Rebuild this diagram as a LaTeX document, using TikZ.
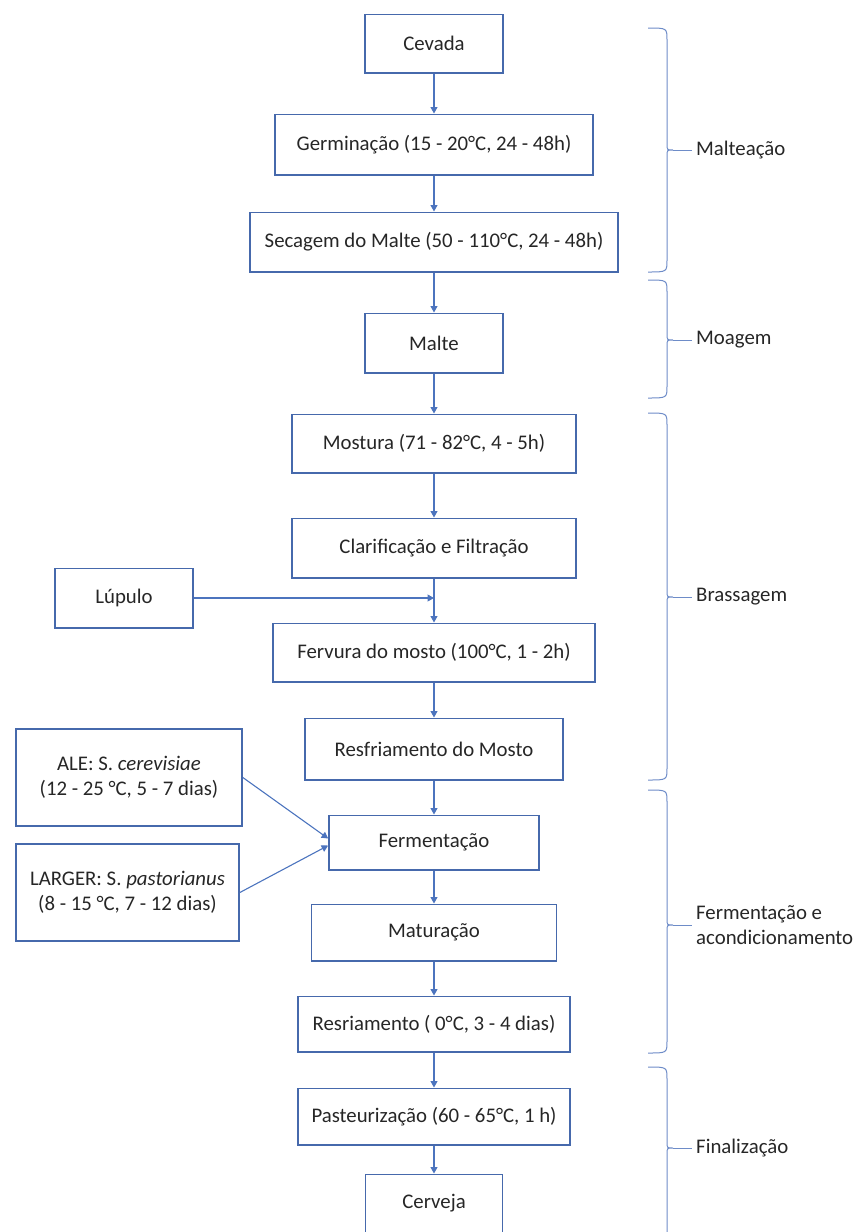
\documentclass[tikz,border=0pt]{standalone}
\usepackage{fontspec}
\setmainfont{Carlito}
\definecolor{caixaazul}{RGB}{70,105,172}
\definecolor{setaazul}{RGB}{76,116,190}
\definecolor{chaveazul}{RGB}{110,140,200}
\definecolor{textocinza}{RGB}{38,38,38}
\usetikzlibrary{arrows.meta,positioning,calc}

\begin{document}
\begin{tikzpicture}[x=1pt,y=-1pt,node distance=38pt]
  \tikzstyle{etapa}=[rectangle,draw=caixaazul,line width=1.7pt,minimum height=58.3pt,align=center,text=textocinza,font=\fontsize{20.8}{25.5}\selectfont]
  \tikzstyle{seta}=[-{Triangle[length=6.5pt,width=7pt]},setaazul,line width=1.1pt]
  \tikzstyle{chave}=[chaveazul,line width=1pt]
  \tikzstyle{fase}=[anchor=west,align=left,inner sep=2pt,text=textocinza,font=\fontsize{20.8}{25.5}\selectfont]
  \useasboundingbox (0,0) rectangle (857,1232);
  % coluna principal
  \node[etapa,minimum width=138pt] (cevada) at (434,43.5) {Cevada};
  \node[etapa,minimum width=318pt,minimum height=60.3pt,below=40pt of cevada] (germ) {Germinação (15 - 20°C, 24 - 48h)};
  \node[etapa,minimum width=368pt,minimum height=59.3pt,below=36pt of germ] (secagem) {Secagem do Malte (50 - 110°C, 24 - 48h)};
  \node[etapa,minimum width=138pt,minimum height=59.3pt,below=40pt of secagem] (malte) {Malte};
  \node[etapa,minimum width=284pt,below=40pt of malte] (mostura) {Mostura (71 - 82°C, 4 - 5h)};
  \node[etapa,minimum width=284pt,minimum height=59.3pt,below=44pt of mostura] (clar) {Clarificação e Filtração};
  \node[etapa,minimum width=322pt,below=44pt of clar] (ferv) {Fervura do mosto (100°C, 1 - 2h)};
  \node[etapa,minimum width=258pt,minimum height=61.3pt,below=35pt of ferv] (resf) {Resfriamento do Mosto};
  \node[etapa,minimum width=210pt,minimum height=54.3pt,below=34pt of resf] (ferm) {Fermentação};
  \node[etapa,minimum width=245pt,minimum height=56.3pt,below=33pt of ferm] (mat) {Maturação};
  \node[etapa,minimum width=272pt,minimum height=55.3pt,below=34pt of mat] (resr) {Resriamento ( 0°C, 3 - 4 dias)};
  \node[etapa,minimum width=272pt,minimum height=56.3pt,below=35pt of resr] (past) {Pasteurização (60 - 65°C, 1 h)};
  \node[etapa,minimum width=137pt,below=28pt of past] (cerveja) {Cerveja};
  % entradas laterais
  \node[etapa,minimum width=138pt,minimum height=59.3pt] (lupulo) at (124,598) {Lúpulo};
  \node[etapa,minimum width=226pt,minimum height=97.3pt] (ale) at (129,777.5) {ALE: S. \textit{cerevisiae}\\(12 - 25 °C, 5 - 7 dias)};
  \node[etapa,minimum width=223pt,minimum height=97.3pt] (larger) at (127.5,892.5) {LARGER: S. \textit{pastorianus}\\(8 - 15 °C, 7 - 12 dias)};
  % setas
  \draw[seta] (cevada) -- (germ);
  \draw[seta] (germ) -- (secagem);
  \draw[seta] (secagem) -- (malte);
  \draw[seta] (malte) -- (mostura);
  \draw[seta] (mostura) -- (clar);
  \draw[seta] (clar) -- (ferv);
  \draw[seta] (ferv) -- (resf);
  \draw[seta] (resf) -- (ferm);
  \draw[seta] (ferm) -- (mat);
  \draw[seta] (mat) -- (resr);
  \draw[seta] (resr) -- (past);
  \draw[seta] (past) -- (cerveja);
  \coordinate (lupin) at (lupulo.east -| clar.south);
  \draw[seta] (lupulo.east) -- (lupin);
  \draw[seta] (ale.east) -- ($(ferm.west)+(0,-4)$);
  \draw[seta] (larger.east) -- ($(ferm.west)+(0,3)$);
  % chaves das fases
  \foreach \ta/\me/\ba/\nome in {28/150/272/Malteação,280/340/398/Moagem,413/597/780/Brassagem,790/925/1053/{Fermentação e\\acondicionamento},1067/1148/1262/Finalização}{
    \draw[chave] (648,\ta) .. controls (667,\ta) .. (667,\ta+12) -- (667,\me-6) .. controls (667,\me) .. (673,\me) .. controls (667,\me) .. (667,\me+6) -- (667,\ba-12) .. controls (667,\ba) .. (648,\ba);
    \draw[chave] (673,\me) -- (692,\me);
    \node[fase] (f\ta) at (694,\me) {\nome};
  }
\end{tikzpicture}
\end{document}
